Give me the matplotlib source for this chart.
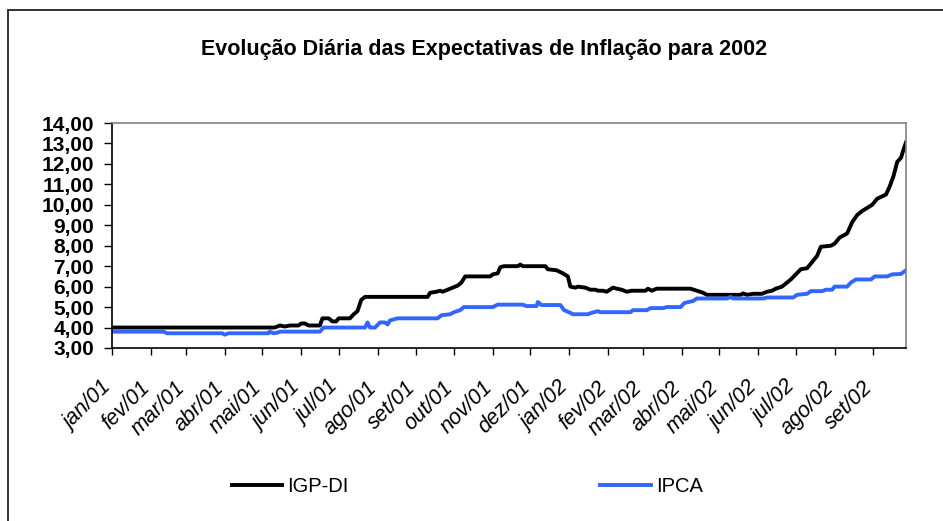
import numpy as np
import pandas as pd
import matplotlib
matplotlib.use('Agg')
import matplotlib.pyplot as plt
from matplotlib.patches import Rectangle
from matplotlib.transforms import ScaledTranslation

plt.rcParams['font.family'] = ['Liberation Sans', 'DejaVu Sans']

titulo = 'Evolução Diária das Expectativas de Inflação para 2002'

# IGP-DI: datas e valores
igp_datas = ['2001-01-01', '2001-05-11', '2001-05-15', '2001-05-19', '2001-05-23', '2001-05-30',
             '2001-06-01', '2001-06-04', '2001-06-07', '2001-06-16', '2001-06-18', '2001-06-23',
             '2001-06-26', '2001-06-29', '2001-07-01', '2001-07-10', '2001-07-13', '2001-07-16',
             '2001-07-19', '2001-07-22', '2001-09-10', '2001-09-12', '2001-09-17', '2001-09-20',
             '2001-09-22', '2001-09-26', '2001-09-30', '2001-10-04', '2001-10-07', '2001-10-10',
             '2001-10-30', '2001-11-01', '2001-11-05', '2001-11-07', '2001-11-10', '2001-11-21',
             '2001-11-23', '2001-11-25', '2001-12-13', '2001-12-15', '2001-12-22', '2001-12-27',
             '2001-12-31', '2002-01-02', '2002-01-06', '2002-01-08', '2002-01-14', '2002-01-18',
             '2002-01-22', '2002-01-24', '2002-01-28', '2002-01-31', '2002-02-05', '2002-02-08',
             '2002-02-12', '2002-02-16', '2002-02-20', '2002-03-03', '2002-03-05', '2002-03-08',
             '2002-03-12', '2002-04-08', '2002-04-13', '2002-04-18', '2002-04-21', '2002-05-18',
             '2002-05-20', '2002-05-23', '2002-05-28', '2002-06-04', '2002-06-08', '2002-06-12',
             '2002-06-15', '2002-06-20', '2002-06-24', '2002-06-27', '2002-07-01', '2002-07-05',
             '2002-07-10', '2002-07-14', '2002-07-18', '2002-07-21', '2002-07-29', '2002-08-01',
             '2002-08-05', '2002-08-11', '2002-08-15', '2002-08-19', '2002-08-23', '2002-08-31',
             '2002-09-04', '2002-09-11', '2002-09-14', '2002-09-17', '2002-09-20', '2002-09-23',
             '2002-09-25', '2002-09-27']
igp_valores = [4.00, 4.00, 4.10, 4.05, 4.10, 4.10,
               4.20, 4.20, 4.10, 4.10, 4.45, 4.45,
               4.30, 4.30, 4.45, 4.45, 4.65, 4.80,
               5.35, 5.50, 5.50, 5.70, 5.75, 5.80,
               5.75, 5.85, 5.95, 6.05, 6.20, 6.50,
               6.50, 6.60, 6.65, 6.95, 7.00, 7.00,
               7.08, 7.00, 7.00, 6.85, 6.80, 6.65,
               6.50, 6.00, 5.95, 6.00, 5.95, 5.85,
               5.85, 5.80, 5.80, 5.75, 5.95, 5.90,
               5.85, 5.75, 5.80, 5.80, 5.90, 5.80,
               5.90, 5.90, 5.80, 5.70, 5.60, 5.60,
               5.67, 5.60, 5.65, 5.65, 5.75, 5.80,
               5.90, 6.00, 6.20, 6.35, 6.60, 6.85,
               6.90, 7.20, 7.50, 7.95, 8.00, 8.10,
               8.40, 8.60, 9.15, 9.50, 9.70, 10.00,
               10.30, 10.50, 10.90, 11.40, 12.10, 12.30,
               12.70, 13.05]

# IPCA
ipca_datas = ['2001-01-01', '2001-02-11', '2001-02-14', '2001-03-30', '2001-04-01', '2001-04-04',
              '2001-05-06', '2001-05-07', '2001-05-10', '2001-05-13', '2001-05-15', '2001-06-16',
              '2001-06-19', '2001-07-22', '2001-07-24', '2001-07-26', '2001-07-30', '2001-08-03',
              '2001-08-07', '2001-08-09', '2001-08-11', '2001-08-17', '2001-09-18', '2001-09-21',
              '2001-09-28', '2001-10-01', '2001-10-06', '2001-10-09', '2001-11-01', '2001-11-05',
              '2001-11-25', '2001-11-28', '2001-12-06', '2001-12-07', '2001-12-10', '2001-12-25',
              '2001-12-28', '2002-01-02', '2002-01-04', '2002-01-16', '2002-01-19', '2002-01-24',
              '2002-01-26', '2002-02-19', '2002-02-21', '2002-03-04', '2002-03-07', '2002-03-17',
              '2002-03-20', '2002-03-31', '2002-04-03', '2002-04-10', '2002-04-13', '2002-05-07',
              '2002-05-10', '2002-05-12', '2002-06-05', '2002-06-08', '2002-06-29', '2002-07-02',
              '2002-07-10', '2002-07-13', '2002-07-22', '2002-07-25', '2002-07-30', '2002-08-01',
              '2002-08-11', '2002-08-14', '2002-08-18', '2002-08-30', '2002-09-02', '2002-09-12',
              '2002-09-16', '2002-09-23', '2002-09-27']
ipca_valores = [3.80, 3.80, 3.72, 3.72, 3.65, 3.72,
                3.72, 3.80, 3.72, 3.75, 3.80, 3.80,
                4.00, 4.00, 4.25, 4.00, 4.00, 4.25,
                4.25, 4.15, 4.35, 4.45, 4.45, 4.60,
                4.65, 4.75, 4.85, 5.00, 5.00, 5.12,
                5.12, 5.05, 5.05, 5.25, 5.10, 5.10,
                4.85, 4.72, 4.65, 4.65, 4.72, 4.80,
                4.75, 4.75, 4.85, 4.85, 4.95, 4.95,
                5.00, 5.00, 5.20, 5.30, 5.42, 5.42,
                5.50, 5.42, 5.42, 5.47, 5.47, 5.60,
                5.65, 5.78, 5.78, 5.85, 5.85, 6.00,
                6.00, 6.20, 6.35, 6.35, 6.50, 6.50,
                6.60, 6.62, 6.80]

meses = ['jan/01', 'fev/01', 'mar/01', 'abr/01', 'mai/01', 'jun/01', 'jul/01',
         'ago/01', 'set/01', 'out/01', 'nov/01', 'dez/01', 'jan/02', 'fev/02',
         'mar/02', 'abr/02', 'mai/02', 'jun/02', 'jul/02', 'ago/02', 'set/02']

fig = plt.figure(figsize=(9.43, 5.21), dpi=100)
ax = fig.add_axes([112/943, 1 - 348/521, (906 - 112)/943, (348 - 123)/521])

ax.plot(pd.to_datetime(igp_datas), igp_valores, color='black', lw=2.8,
        solid_joinstyle='round', label='IGP-DI')
ax.plot(pd.to_datetime(ipca_datas), ipca_valores, color='#3366ff', lw=2.8,
        solid_joinstyle='round', label='IPCA')

ax.set_xlim(pd.Timestamp('2001-01-01'), pd.Timestamp('2002-09-27'))
ax.set_ylim(3, 14)

yt = np.arange(3, 15)
ax.set_yticks(yt, [f'{v:.2f}'.replace('.', ',') for v in yt],
              fontsize=15, fontweight='bold')
inicio_mes = pd.date_range('2001-01-01', periods=len(meses), freq='MS')
ax.set_xticks(inicio_mes, meses, rotation=45, ha='right', va='top',
              rotation_mode='anchor', fontsize=15.5, style='italic')
ax.tick_params(axis='y', length=6, width=1, pad=7, direction='out')
ax.tick_params(axis='x', length=5, width=1, pad=16, direction='out')
desloc = ScaledTranslation(-0.11, 0, fig.dpi_scale_trans)
for lab in ax.get_xticklabels():
    lab.set_transform(lab.get_transform() + desloc)

for s in ['top', 'right']:
    ax.spines[s].set_color('#808080')
    ax.spines[s].set_linewidth(1.2)
for s in ['left', 'bottom']:
    ax.spines[s].set_color('black')
    ax.spines[s].set_linewidth(1.2)

fig.text(484/943, 1 - 49/521, titulo, ha='center', va='center',
         fontsize=15.5, fontweight='bold')

fig.legend(loc='center left', bbox_to_anchor=(232/943, 1 - 487/521), ncol=2,
           frameon=False, fontsize=14.5, handlelength=2.5, handletextpad=0.25,
           columnspacing=12.5, borderpad=0, borderaxespad=0)

fig.patches.append(Rectangle((8/943, -0.1), 1.2, 1.1 - 10/521, transform=fig.transFigure,
                             fill=False, edgecolor='#222222', lw=1.3))

plt.savefig('out.png', dpi=100)
